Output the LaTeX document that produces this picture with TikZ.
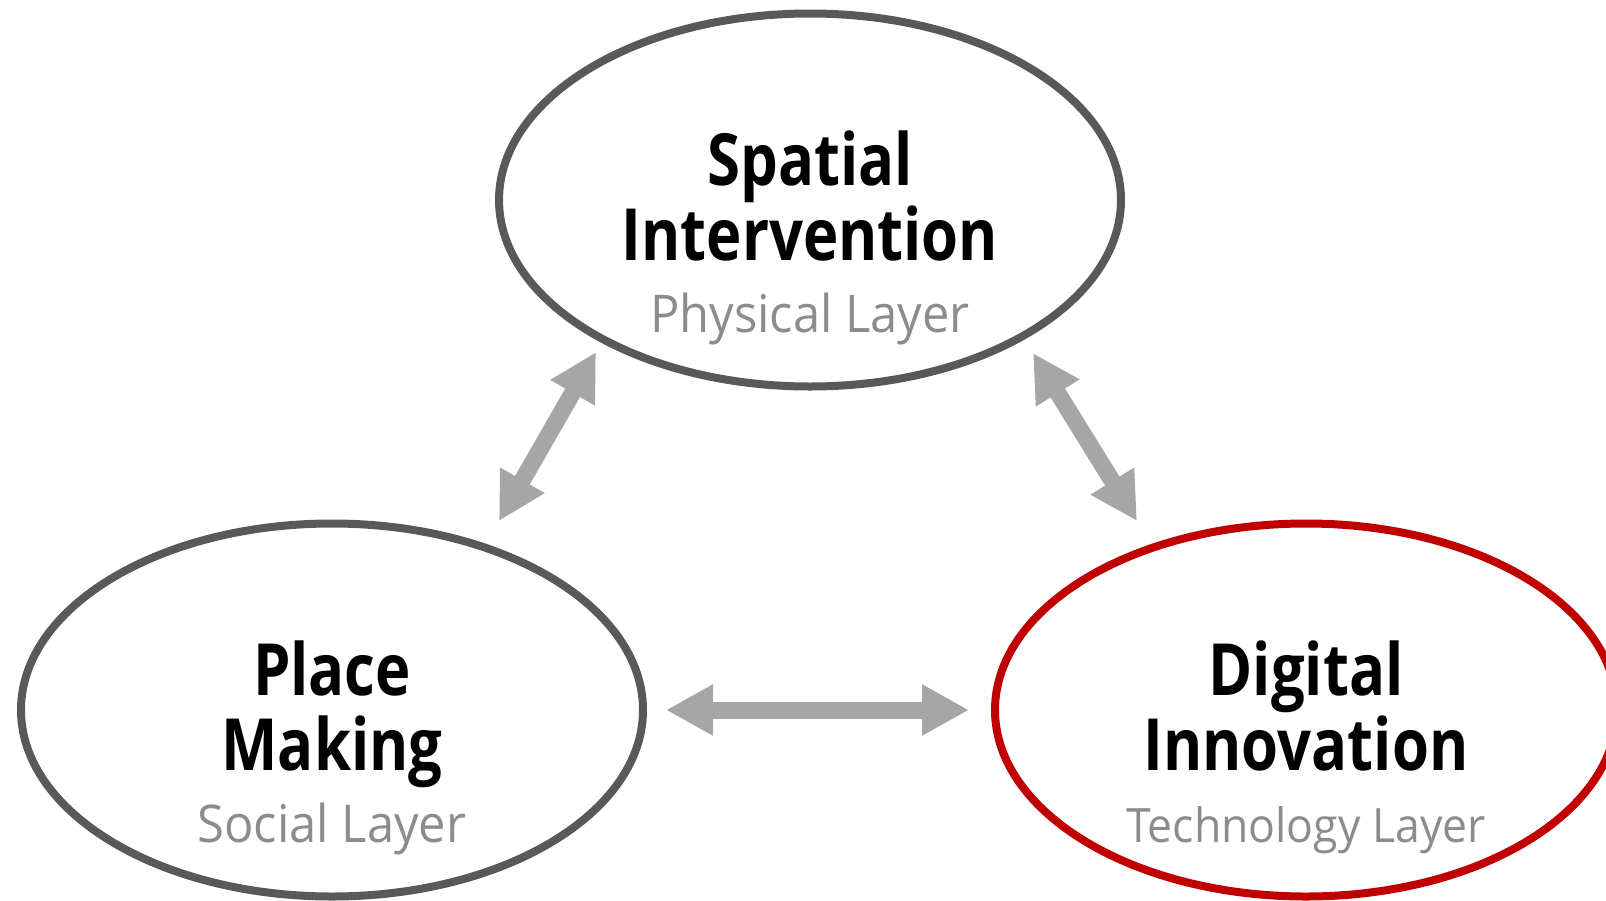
\documentclass[tikz,border=0pt]{standalone}
\usepackage{fontspec}
\setmainfont{Open Sans}
\newfontfamily\titlefont{Open Sans}[FakeStretch=0.83]
\newfontfamily\layerfont{Open Sans}[FakeStretch=0.94]
\usetikzlibrary{arrows.meta,shapes.geometric}
\definecolor{RingGray}{HTML}{595959}
\definecolor{RingRed}{HTML}{C00000}
\definecolor{ArrowGray}{HTML}{A6A6A6}
\definecolor{LayerGray}{HTML}{8C8C8C}

\begin{document}
\begin{tikzpicture}[
  x=0.5pt,
  y=-0.5pt,
  ring/.style={ellipse,draw=RingGray,line width=4pt,minimum width=311pt,minimum height=186.5pt,inner sep=0},
  hot ring/.style={ring,draw=RingRed},
  title/.style={anchor=base,inner sep=0,font=\titlefont\bfseries\fontsize{36}{36}\selectfont},
  layer/.style={anchor=base,inner sep=0,text=LayerGray,font=\layerfont\fontsize{26}{26}\selectfont},
  link/.style={{Triangle[length=23.5pt,width=24pt]}-{Triangle[length=23.5pt,width=24pt]},draw=ArrowGray,line width=8.5pt}
]
  \useasboundingbox (0,0) rectangle (1606,900);

  % the three layers
  \node[ring] (spatial) at (810,200) {};
  \node[ring] (place) at (332,710) {};
  \node[hot ring] (digital) at (1306,710) {};

  \node[title] (spatial1) at (810,185) {Spatial};
  \node[title] (spatial2) at (810,260) {Intervention};
  \node[layer] (spatial3) at (810,332) {Physical Layer};

  \node[title] (place1) at (332,695) {Place};
  \node[title] (place2) at (332,770) {Making};
  \node[layer] (place3) at (332,842) {Social Layer};

  \node[title] (digital1) at (1306,695) {Digital};
  \node[title] (digital2) at (1306,770) {Innovation};
  \node[layer,font=\layerfont\fontsize{23.7}{24}\selectfont] (digital3) at (1306,842) {Technology Layer};

  % arrow ends
  \coordinate (sp-a) at (596,352);
  \coordinate (pl-a) at (499,521);
  \coordinate (sp-b) at (1033,353);
  \coordinate (di-b) at (1137,521);
  \coordinate (pl-c) at (666,710);
  \coordinate (di-c) at (969,710);

  \draw[link] (sp-a) -- (pl-a);
  \draw[link] (sp-b) -- (di-b);
  \draw[link] (pl-c) -- (di-c);
\end{tikzpicture}
\end{document}
